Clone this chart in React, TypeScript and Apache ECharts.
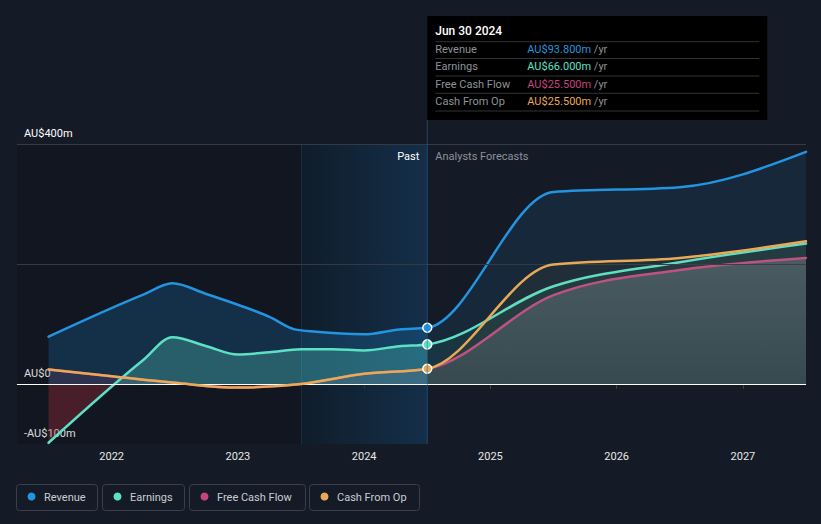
import { useEffect, useRef } from 'react';
import * as echarts from 'echarts';

// ---------------- data ----------------
const yearTicks = [2022, 2023, 2024, 2025, 2026, 2027];
const yLabelValues = [-100, 0, 400];
const gridLineValues = [200, 400];
const xMin = 2021.25;
const xMax = 2027.5;
const pastBandStart = 2023.5;
const nowYear = 2024.5;
const tooltipDate = 'Jun 30 2024';
const pastLabel = 'Past';
const forecastLabel = 'Analysts Forecasts';

const revenuePast: [number, number][] = [
  [2021.5, 79], [2022.25, 149], [2022.48, 168], [2022.75, 150], [2023.0, 132],
  [2023.25, 112], [2023.45, 91], [2023.62, 87], [2024.0, 83], [2024.28, 91], [2024.5, 93.8],
];
const earningsPast: [number, number][] = [
  [2021.5, -98], [2022.25, 40], [2022.48, 78], [2022.75, 63], [2023.0, 49],
  [2023.25, 53], [2023.5, 58], [2023.75, 58], [2024.0, 56], [2024.28, 63], [2024.5, 66],
];
const fcfPast: [number, number][] = [
  [2021.5, 24], [2022.0, 13], [2022.5, 2], [2023.0, -6], [2023.5, 0], [2024.0, 17], [2024.5, 25.5],
];
const cfoPast: [number, number][] = [
  [2021.5, 24], [2022.0, 13], [2022.5, 2], [2023.0, -6], [2023.5, 0], [2024.0, 17], [2024.5, 25.5],
];

const revenueForecast: [number, number][] = [[2024.5, 93.8], [2025.5, 320], [2026.5, 328], [2027.5, 387]];
const earningsForecast: [number, number][] = [[2024.5, 66], [2025.5, 163], [2026.5, 203], [2027.5, 234]];
const fcfForecast: [number, number][] = [[2024.5, 25.5], [2025.5, 148], [2026.5, 190], [2027.5, 210]];
const cfoForecast: [number, number][] = [[2024.5, 25.5], [2025.5, 199], [2026.5, 210], [2027.5, 238]];

const seriesNames = ['Revenue', 'Earnings', 'Free Cash Flow', 'Cash From Op'];

// ---------------- styles ----------------
const COLORS = {
  revenue: '#2394df',
  earnings: '#5ce0c6',
  fcf: '#c4447e',
  cfo: '#e9a957',
};
const BG = '#151b26';
const FONT = 'Roboto, "Noto Sans", sans-serif';

const fmtMoney = (v: number) => `AU$${v.toFixed(3)}m`;
const fmtAxis = (v: number) => (v === 0 ? 'AU$0' : v < 0 ? `-AU$${Math.abs(v)}m` : `AU$${v}m`);

const sign = (v: number) => (v < 0 ? -1 : 1);

// monotone-x cubic tangents (pixel space), returns bezier segment strings
function monotoneSegments(pts: number[][]): string[] {
  const n = pts.length;
  const t: number[] = new Array(n).fill(0);
  const s: number[] = [];
  for (let i = 0; i < n - 1; i++) {
    const h = pts[i + 1][0] - pts[i][0];
    s.push(h ? (pts[i + 1][1] - pts[i][1]) / h : 0);
  }
  for (let i = 1; i < n - 1; i++) {
    const h0 = pts[i][0] - pts[i - 1][0];
    const h1 = pts[i + 1][0] - pts[i][0];
    const s0 = s[i - 1];
    const s1 = s[i];
    const p = (s0 * h1 + s1 * h0) / (h0 + h1);
    t[i] = (sign(s0) + sign(s1)) * Math.min(Math.abs(s0), Math.abs(s1), 0.5 * Math.abs(p)) || 0;
  }
  if (n > 2) {
    t[0] = (3 * s[0] - t[1]) / 2;
    t[n - 1] = (3 * s[n - 2] - t[n - 2]) / 2;
  } else if (n === 2) {
    t[0] = t[1] = s[0];
  }
  const segs: string[] = [];
  for (let i = 0; i < n - 1; i++) {
    const [x0, y0] = pts[i];
    const [x1, y1] = pts[i + 1];
    const dx = (x1 - x0) / 3;
    segs.push(`C${x0 + dx},${y0 + dx * t[i]} ${x1 - dx},${y1 - dx * t[i + 1]} ${x1},${y1}`);
  }
  return segs;
}

function metricSeries(
  name: string,
  past: [number, number][],
  forecast: [number, number][],
  color: string,
  pastFill: any,
  foreFill: any,
  dot: boolean,
  z: number
) {
  const all = [...past, ...forecast.slice(1)];
  const nowIdx = past.length - 1;
  return {
    type: 'custom',
    name,
    z,
    silent: true,
    clip: false,
    data: all,
    encode: { x: 0, y: 1 },
    renderItem: (params: any, api: any) => {
      if (params.dataIndex !== 0) return null;
      const pts = all.map((p) => api.coord(p) as number[]);
      const zeroY = (api.coord([all[0][0], 0]) as number[])[1];
      const segs = monotoneSegments(pts);
      const start = `M${pts[0][0]},${pts[0][1]}`;
      const linePath = start + segs.join('');
      const pastLine = start + segs.slice(0, nowIdx).join('');
      const pastArea = `${pastLine}L${pts[nowIdx][0]},${zeroY}L${pts[0][0]},${zeroY}Z`;
      const foreLine = `M${pts[nowIdx][0]},${pts[nowIdx][1]}` + segs.slice(nowIdx).join('');
      const last = pts[pts.length - 1];
      const foreArea = `${foreLine}L${last[0]},${zeroY}L${pts[nowIdx][0]},${zeroY}Z`;
      const children: any[] = [];
      if (pastFill) children.push({ type: 'path', shape: { pathData: pastArea }, style: { fill: pastFill, stroke: 'none' } });
      if (foreFill) children.push({ type: 'path', shape: { pathData: foreArea }, style: { fill: foreFill, stroke: 'none' } });
      children.push({
        type: 'path',
        shape: { pathData: linePath },
        style: { fill: 'none', stroke: color, lineWidth: 2.5, lineJoin: 'round', lineCap: 'round' },
      });
      if (dot) {
        children.push({
          type: 'circle',
          shape: { cx: pts[nowIdx][0], cy: pts[nowIdx][1], r: 4.5 },
          style: { fill: color, stroke: '#ffffff', lineWidth: 1.5 },
        });
      }
      return { type: 'group', children };
    },
  };
}

export default function App() {
  const ref = useRef<HTMLDivElement>(null);

  useEffect(() => {
    document.body.style.margin = '0';
    document.body.style.background = BG;
    const chart = echarts.init(ref.current!, undefined, { renderer: 'svg' });

    const baseOption: any = {
      animation: false,
      backgroundColor: BG,
      textStyle: { fontFamily: FONT },
      grid: { left: 17, right: 15, top: 144, bottom: 80, containLabel: false },
      xAxis: {
        type: 'value',
        min: xMin,
        max: xMax,
        axisLine: { show: true, lineStyle: { color: '#3b404a', width: 1 } },
        axisTick: { show: true, customValues: yearTicks, length: 5, lineStyle: { color: '#3b404a' } },
        axisLabel: {
          customValues: yearTicks,
          color: '#e8e8e8',
          fontSize: 11,
          margin: 7,
          fontFamily: FONT,
          formatter: (v: number) => String(v),
        },
        splitLine: { show: false },
      },
      yAxis: {
        type: 'value',
        min: -100,
        max: 400,
        interval: 100,
        axisLine: { show: false },
        axisTick: { show: false },
        splitLine: { show: false },
        axisLabel: {
          customValues: yLabelValues,
          inside: true,
          margin: 7,
          verticalAlign: 'bottom',
          padding: [0, 0, 5, 0],
          color: '#ffffff',
          fontSize: 11,
          fontFamily: FONT,
          formatter: (v: number) => fmtAxis(v),
        },
      },
      series: [],
    };
    chart.setOption(baseOption);

    const nowX = chart.convertToPixel({ xAxisIndex: 0 }, nowYear) as number;
    const zeroY = chart.convertToPixel({ yAxisIndex: 0 }, 0) as number;
    const topY = chart.convertToPixel({ yAxisIndex: 0 }, 400) as number;
    const botY = chart.convertToPixel({ yAxisIndex: 0 }, -100) as number;
    const f = (zeroY - topY) / (botY - topY);

    const earningsPastArea = new echarts.graphic.LinearGradient(0, topY, 0, botY, [
      { offset: 0, color: 'rgba(92,224,198,0.26)' },
      { offset: f, color: 'rgba(92,224,198,0.26)' },
      { offset: f, color: 'rgba(175,45,60,0.34)' },
      { offset: 1, color: 'rgba(175,45,60,0.34)' },
    ], true);

    const fcfForecastArea = new echarts.graphic.LinearGradient(0, topY, 0, zeroY, [
      { offset: 0, color: 'rgba(150,150,158,0.5)' },
      { offset: 1, color: 'rgba(150,150,158,0.16)' },
    ], true);

    const helperSeries: any[] = [
      {
        type: 'line',
        data: [],
        silent: true,
        z: 0,
        markArea: {
          silent: true,
          data: [
            [{ xAxis: xMin, itemStyle: { color: 'rgba(0,0,0,0.15)' } }, { xAxis: pastBandStart }],
            [
              {
                xAxis: pastBandStart,
                itemStyle: {
                  color: new echarts.graphic.LinearGradient(0, 0, 1, 0, [
                    { offset: 0, color: 'rgba(10,30,45,0.5)' },
                    { offset: 1, color: 'rgba(18,70,115,0.45)' },
                  ]),
                  borderColor: 'rgba(40,70,95,0.5)',
                  borderWidth: 0,
                },
              },
              { xAxis: nowYear },
            ],
          ],
        },
      },
      {
        type: 'line',
        data: [],
        silent: true,
        z: 1,
        markLine: {
          silent: true,
          symbol: ['none', 'none'],
          label: { show: false },
          data: [
            ...gridLineValues.map((v) => ({ yAxis: v, lineStyle: { color: '#333945', width: 1, type: 'solid' } })),
            { yAxis: 0, lineStyle: { color: '#ffffff', width: 1.2, type: 'solid' } },
          ],
        },
      },
    ];

    const dataSeries: any[] = [
      metricSeries(seriesNames[0], revenuePast, revenueForecast, COLORS.revenue, 'rgba(35,148,223,0.21)', 'rgba(35,148,223,0.11)', true, 2),
      metricSeries(seriesNames[2], fcfPast, fcfForecast, COLORS.fcf, 'rgba(196,68,126,0.14)', fcfForecastArea, false, 3),
      metricSeries(seriesNames[1], earningsPast, earningsForecast, COLORS.earnings, earningsPastArea, 'rgba(92,224,198,0.07)', true, 4),
      metricSeries(seriesNames[3], cfoPast, cfoForecast, COLORS.cfo, null, 'rgba(233,169,87,0.05)', true, 5),
    ];

    // tooltip box
    const tipX = nowX;
    const tipY = 16;
    const rowValues = [revenuePast, earningsPast, fcfPast, cfoPast].map((a) => a[a.length - 1][1]);
    const rowColors = [COLORS.revenue, COLORS.earnings, COLORS.fcf, COLORS.cfo];
    const sepYs = [25.7, 42.5, 60, 77.3, 95];
    const rowYs = [33.5, 50.5, 68, 85];

    const tipChildren: any[] = [
      { type: 'rect', shape: { x: 0, y: 0, width: 340, height: 104 }, style: { fill: '#000000' } },
      {
        type: 'text',
        x: 8,
        y: 15,
        style: { text: tooltipDate, fill: '#ffffff', font: `500 12px ${FONT}`, textVerticalAlign: 'middle', verticalAlign: 'middle' },
      },
      ...sepYs.map((y) => ({
        type: 'line',
        shape: { x1: 8, y1: y, x2: 332, y2: y },
        style: { stroke: '#333333', lineWidth: 1 },
      })),
      ...seriesNames.map((t, i) => ({
        type: 'text',
        x: 8,
        y: rowYs[i],
        style: { text: t, fill: '#8e9298', font: `11px ${FONT}`, textVerticalAlign: 'middle', verticalAlign: 'middle' },
      })),
      ...rowValues.map((v, i) => ({
        type: 'text',
        x: 100,
        y: rowYs[i],
        style: {
          text: `{v|${fmtMoney(v)}} {u|/yr}`,
          textVerticalAlign: 'middle',
          verticalAlign: 'middle',
          font: `11px ${FONT}`,
          rich: {
            v: { fill: rowColors[i], color: rowColors[i], font: `11px ${FONT}`, fontSize: 11, fontFamily: FONT },
            u: { fill: '#8e9298', color: '#8e9298', font: `11px ${FONT}`, fontSize: 11, fontFamily: FONT },
          },
        },
      })),
    ];

    const legendBoxes = [
      { x: 16, w: 81 },
      { x: 102, w: 82 },
      { x: 189, w: 116 },
      { x: 309, w: 110 },
    ];
    const legendChildren: any[] = [];
    legendBoxes.forEach((b, i) => {
      legendChildren.push({
        type: 'rect',
        shape: { x: b.x + 0.5, y: 484.5, width: b.w, height: 26, r: 3 },
        style: { fill: 'transparent', stroke: '#3a3f4a', lineWidth: 1 },
      });
      legendChildren.push({
        type: 'circle',
        shape: { cx: b.x + 15.5, cy: 496.5, r: 4 },
        style: { fill: rowColors[i] },
      });
      legendChildren.push({
        type: 'text',
        x: b.x + 28,
        y: 497,
        style: { text: seriesNames[i], fill: '#c9cdd3', font: `11px ${FONT}`, textVerticalAlign: 'middle', verticalAlign: 'middle' },
      });
    });

    const bandX = chart.convertToPixel({ xAxisIndex: 0 }, pastBandStart) as number;

    chart.setOption({
      series: [...helperSeries, ...dataSeries],
      graphic: [
        {
          type: 'line',
          z: 1,
          shape: { x1: bandX + 0.5, y1: topY, x2: bandX + 0.5, y2: botY },
          style: { stroke: 'rgba(40,70,95,0.45)', lineWidth: 1 },
          silent: true,
        },
        {
          type: 'line',
          z: 10,
          shape: { x1: nowX, y1: tipY + 104, x2: nowX, y2: botY },
          style: { stroke: 'rgba(50,100,140,0.55)', lineWidth: 1 },
          silent: true,
        },
        {
          type: 'text',
          z: 10,
          x: nowX - 8,
          y: 156,
          style: { text: pastLabel, fill: '#ffffff', font: `11px ${FONT}`, textAlign: 'right', align: 'right', textVerticalAlign: 'middle', verticalAlign: 'middle' },
          silent: true,
        },
        {
          type: 'text',
          z: 10,
          x: nowX + 8,
          y: 156,
          style: { text: forecastLabel, fill: '#8b9099', font: `11px ${FONT}`, textAlign: 'left', align: 'left', textVerticalAlign: 'middle', verticalAlign: 'middle' },
          silent: true,
        },
        { type: 'group', x: tipX, y: tipY, z: 20, children: tipChildren, silent: true },
        { type: 'group', x: 0, y: 0, z: 20, children: legendChildren, silent: true },
      ],
    });

    return () => chart.dispose();
  }, []);

  return <div ref={ref} style={{ width: 821, height: 524 }} />;
}
